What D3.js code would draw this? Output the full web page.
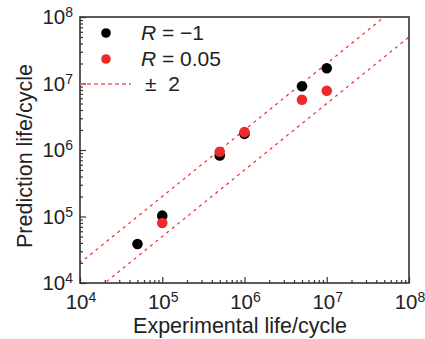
<!DOCTYPE html>
<html>
<head>
<meta charset="utf-8">
<script src="https://cdn.jsdelivr.net/npm/d3@7"></script>
<style>
html,body{margin:0;padding:0;background:#fff;}
svg{display:block;font-family:"Liberation Sans",Arial,Helvetica,sans-serif;}
</style>
</head>
<body>
<svg id="chart" width="425" height="339"></svg>
<script>
// Data
const expLifeA = [5e4, 1e5, 5e5, 1e6, 5e6, 1e7];           // R = -1
const predLifeA = [3.85e4, 1.03e5, 8.3e5, 1.75e6, 9.1e6, 1.7e7];
const expLifeB = [1e5, 5e5, 1e6, 5e6, 1e7];                  // R = 0.05
const predLifeB = [8.0e4, 9.4e5, 1.86e6, 5.7e6, 7.8e6];
const seriesNames = ["R = \u22121", "R = 0.05"];
const bandFactors = [2, 0.5];
const tickExponents = [4, 5, 6, 7, 8];
const xTitle = "Experimental life/cycle";
const yTitle = "Prediction life/cycle";

const svg = d3.select("#chart");
const L = 80, R = 409, T = 17, B = 283;
const x = d3.scaleLog().domain([1e4, 1e8]).range([L, R]);
const y = d3.scaleLog().domain([1e4, 1e8]).range([B, T]);

const axisColor = "#333";
const red = "#ee2a2a";

// clip
svg.append("clipPath").attr("id", "clip").append("rect")
  .attr("x", L).attr("y", T).attr("width", R - L).attr("height", B - T);

// band lines
const lineGen = d3.line().x(d => x(d[0])).y(d => y(d[1]));
bandFactors.forEach(f => {
  const pts = [[1e3, 1e3 * f], [1e9, 1e9 * f]];
  svg.append("path").attr("d", lineGen(pts))
    .attr("clip-path", "url(#clip)")
    .attr("fill", "none").attr("stroke", red).attr("stroke-width", 1.2)
    .attr("stroke-dasharray", "3,4");
});

// axes with inner ticks
const tickVals = tickExponents.map(e => Math.pow(10, e));
const minor = [];
for (let e = 4; e < 8; e++) for (let k = 2; k <= 9; k++) minor.push(k * Math.pow(10, e));

const gx = svg.append("g").attr("transform", `translate(0,${B})`);
gx.call(d3.axisBottom(x).tickValues(tickVals).tickSize(-6).tickFormat(""));
const gxm = svg.append("g").attr("transform", `translate(0,${B})`);
gxm.call(d3.axisBottom(x).tickValues(minor).tickSize(-3).tickFormat(""));
const gy = svg.append("g").attr("transform", `translate(${L},0)`);
gy.call(d3.axisLeft(y).tickValues(tickVals).tickSize(-6).tickFormat(""));
const gym = svg.append("g").attr("transform", `translate(${L},0)`);
gym.call(d3.axisLeft(y).tickValues(minor).tickSize(-3).tickFormat(""));
[gx, gxm, gy, gym].forEach(g => {
  g.selectAll("path.domain").remove();
  g.selectAll("line").attr("stroke", axisColor).attr("stroke-width", 1.2);
});

// frame
svg.append("rect").attr("x", L).attr("y", T).attr("width", R - L).attr("height", B - T)
  .attr("fill", "none").attr("stroke", axisColor).attr("stroke-width", 1.6);

// tick labels
function pow10Label(sel, e) {
  sel.append("tspan").text("10");
  sel.append("tspan").attr("font-size", 14).attr("dy", -7).text(e);
}
tickExponents.forEach(e => {
  const t = svg.append("text").attr("x", x(Math.pow(10, e)) + 1).attr("y", B + 26)
    .attr("text-anchor", "middle").attr("font-size", 20.5).attr("fill", "#222");
  pow10Label(t, e);
  const ty = svg.append("text").attr("x", L - 7).attr("y", y(Math.pow(10, e)) + 7)
    .attr("text-anchor", "end").attr("font-size", 20.5).attr("fill", "#222");
  pow10Label(ty, e);
});

// titles
svg.append("text").attr("x", 240).attr("y", 333).attr("text-anchor", "middle")
  .attr("font-size", 21.5).attr("fill", "#222").text(xTitle);
svg.append("text").attr("transform", `translate(32,156) rotate(-90)`)
  .attr("text-anchor", "middle").attr("font-size", 21.5).attr("fill", "#222").text(yTitle);

// points
const dataA = expLifeA.map((v, i) => [v, predLifeA[i]]);
const dataB = expLifeB.map((v, i) => [v, predLifeB[i]]);
svg.append("g").selectAll("circle").data(dataA).join("circle")
  .attr("cx", d => x(d[0])).attr("cy", d => y(d[1])).attr("r", 5.3).attr("fill", "#000");
svg.append("g").selectAll("circle").data(dataB).join("circle")
  .attr("cx", d => x(d[0])).attr("cy", d => y(d[1])).attr("r", 5.3).attr("fill", red);

// legend
const leg = svg.append("g");
leg.append("circle").attr("cx", 106).attr("cy", 33).attr("r", 4.8).attr("fill", "#000");
leg.append("circle").attr("cx", 106).attr("cy", 59).attr("r", 4.8).attr("fill", red);
leg.append("line").attr("x1", L).attr("x2", 131).attr("y1", 84).attr("y2", 84)
  .attr("stroke", "#f05a5a").attr("stroke-width", 1.3).attr("stroke-dasharray", "4,3");
function legText(yy, name) {
  const t = leg.append("text").attr("x", 141).attr("y", yy).attr("font-size", 21).attr("fill", "#222");
  const parts = name.split(" ");
  t.append("tspan").attr("font-style", "italic").text(parts[0]);
  t.append("tspan").text(" " + parts.slice(1).join(" "));
}
legText(40, seriesNames[0]);
legText(66, seriesNames[1]);
leg.append("text").attr("x", 145).attr("y", 91).attr("font-size", 21).attr("fill", "#222")
  .attr("xml:space", "preserve").text("\u00b1  " + bandFactors[0]);
</script>
</body>
</html>
